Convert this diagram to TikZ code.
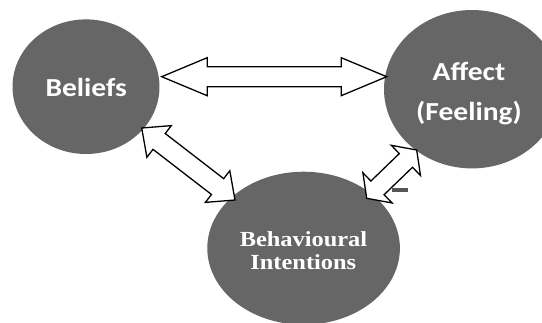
\documentclass[tikz,border=0pt]{standalone}
\usepackage{fontspec}
\usepackage{graphicx}
\usetikzlibrary{calc,shapes.geometric}
\newfontfamily\calib{Carlito}
\newfontfamily\timesf{Liberation Serif}
\definecolor{circfill}{RGB}{102,102,102}
\definecolor{dashcol}{RGB}{85,85,85}
\tikzset{
  circ/.style={ellipse, fill=circfill, draw=none, inner sep=0pt},
  arrowsty/.style={draw=black, fill=white, line width=1.3pt, line join=miter},
  lbl/.style={text=white, inner sep=0pt, anchor=base},
}
\newcommand\dblarr[5]{%
 \draw[arrowsty] (#1) -- ($(#1)!#3!(#2)!#4!90:(#2)$) -- ($(#1)!#3!(#2)!#5!90:(#2)$)
   -- ($(#2)!#3!(#1)!#5!-90:(#1)$) -- ($(#2)!#3!(#1)!#4!-90:(#1)$) -- (#2)
   -- ($(#2)!#3!(#1)!#4!90:(#1)$) -- ($(#2)!#3!(#1)!#5!90:(#1)$)
   -- ($(#1)!#3!(#2)!#5!-90:(#2)$) -- ($(#1)!#3!(#2)!#4!-90:(#2)$) -- cycle;}
\begin{document}
\begin{tikzpicture}[x=1pt,y=-1pt]
\useasboundingbox (0,0) rectangle (542,322);
\clip (0,0) rectangle (542,322);
\fill[white] (0,0) rectangle (542,322);
% circles
\node[circ, minimum width=147pt, minimum height=134.6pt] (bel) at (86,86.7) {};
\node[circ, minimum width=176pt, minimum height=158.4pt] (aff) at (472,89.2) {};
\node[circ, minimum width=192.6pt, minimum height=153pt] (beh) at (303.6,248.2) {};
% labels
\node[lbl, font=\calib\bfseries\fontsize{26}{30}\selectfont] (tbel) at (86.2,96) {\scalebox{1.135}[1]{Beliefs}};
\node[lbl, font=\calib\bfseries\fontsize{26}{30}\selectfont] (taff1) at (469,80) {\scalebox{1.135}[1]{Affect}};
\node[lbl, font=\calib\bfseries\fontsize{26}{30}\selectfont] (taff2) at (469,120.9) {\scalebox{1.135}[1]{(Feeling)}};
\node[lbl, font=\timesf\bfseries\fontsize{21.5}{24}\selectfont] (tbeh1) at (303.5,246) {\scalebox{1.135}[1]{Behavioural}};
\node[lbl, font=\timesf\bfseries\fontsize{21.5}{24}\selectfont] (tbeh2) at (303.3,269) {\scalebox{1.135}[1]{Intentions}};
% arrow tips
\coordinate (h1) at (161.7,76.7);
\coordinate (h2) at (386.7,76.7);
\coordinate (d1) at (141.7,128);
\coordinate (d2) at (235,200);
\coordinate (r1) at (366.7,198.3);
\coordinate (r2) at (416.7,150);
\dblarr{h1}{h2}{45.5pt}{19pt}{10pt}
\dblarr{d1}{d2}{22pt}{20pt}{10pt}
\dblarr{r1}{r2}{15pt}{21pt}{9.5pt}
% small dash
\fill[dashcol] (392,188) rectangle (408,192);
\end{tikzpicture}
\end{document}
